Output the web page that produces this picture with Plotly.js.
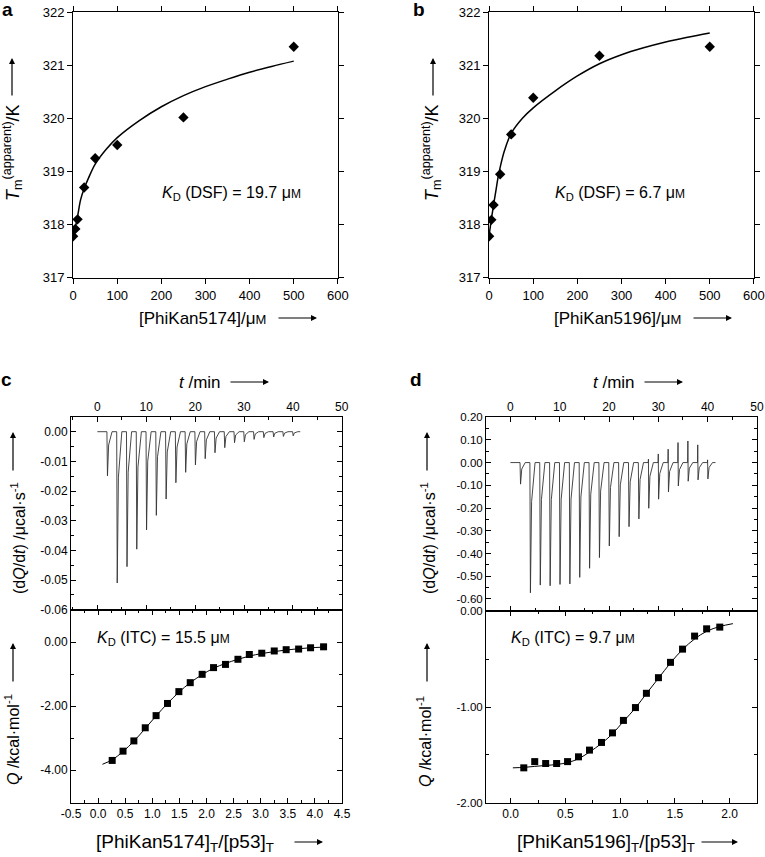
<!DOCTYPE html>
<html>
<head>
<meta charset="utf-8">
<script src="https://cdn.plot.ly/plotly-3.0.1.min.js"></script>
<style>
html,body{margin:0;padding:0;background:#fff;}
#chart{width:765px;height:857px;}
</style>
</head>
<body>
<div id="chart"></div>
<script>
// ---------- Panel a (DSF, PhiKan5174) ----------
const a_conc = [0, 5, 10, 25, 50, 100, 250, 500];
const a_tm = [317.78, 317.92, 318.10, 318.70, 319.25, 319.50, 320.02, 321.35];
const a_fit_conc = [0, 5, 10, 17, 25, 35, 50, 75, 100, 150, 200, 250, 300, 350, 400, 450, 500];
const a_fit_tm = [317.80, 317.95, 318.15, 318.47, 318.68, 318.88, 319.14, 319.42, 319.64, 319.96, 320.22, 320.43, 320.60, 320.74, 320.87, 320.98, 321.08];

// ---------- Panel b (DSF, PhiKan5196) ----------
const b_conc = [0, 5, 10, 25, 50, 100, 250, 500];
const b_tm = [317.78, 318.09, 318.37, 318.95, 319.70, 320.39, 321.18, 321.35];
const b_fit_conc = [0, 5, 10, 15, 20, 25, 35, 50, 75, 100, 150, 200, 250, 300, 350, 400, 450, 500];
const b_fit_tm = [317.80, 318.10, 318.37, 318.62, 318.88, 319.08, 319.40, 319.72, 320.00, 320.20, 320.52, 320.80, 321.03, 321.20, 321.33, 321.44, 321.53, 321.61];

// ---------- Panel c (ITC, PhiKan5174) ----------
const c_inj_t = [2, 4, 6, 8, 10, 12, 14, 16, 18, 20, 22, 24, 26, 28, 30, 32, 34, 36, 38, 40];
const c_peak = [-0.0149, -0.0510, -0.0455, -0.0396, -0.0331, -0.0282, -0.0227, -0.0172, -0.0137, -0.0112,
                -0.0091, -0.0071, -0.0054, -0.0037, -0.0034, -0.0026, -0.0020, -0.0018, -0.0016, -0.0014];
const c_base_t = [0, 41.5];
const c_ratio = [0.26, 0.46, 0.66, 0.87, 1.07, 1.28, 1.49, 1.70, 1.92, 2.13, 2.35, 2.58, 2.79, 3.02, 3.25, 3.47, 3.70, 3.92, 4.16];
const c_q = [-3.70, -3.41, -3.09, -2.68, -2.30, -1.92, -1.55, -1.27, -1.01, -0.80, -0.70, -0.54, -0.39, -0.35, -0.28, -0.24, -0.22, -0.18, -0.15];
const c_fit_ratio = [0.08, 0.26, 0.46, 0.66, 0.87, 1.07, 1.28, 1.49, 1.70, 1.92, 2.13, 2.35, 2.58, 2.79, 3.02, 3.25, 3.47, 3.70, 3.92, 4.16];
const c_fit_q = [-3.82, -3.68, -3.42, -3.10, -2.70, -2.31, -1.92, -1.57, -1.27, -1.02, -0.82, -0.67, -0.54, -0.44, -0.36, -0.30, -0.25, -0.21, -0.18, -0.16];

// ---------- Panel d (ITC, PhiKan5196) ----------
const d_inj_t = [2, 4, 6, 8, 10, 12, 14, 16, 18, 20, 22, 24, 26, 28, 30, 32, 34, 36, 38, 40];
const d_peak = [-0.095, -0.573, -0.539, -0.542, -0.536, -0.534, -0.505, -0.465, -0.418, -0.367,
                -0.326, -0.282, -0.248, -0.201, -0.161, -0.129, -0.103, -0.082, -0.076, -0.072];
const d_up = [0, 0, 0, 0, 0, 0, 0, 0, 0, 0, 0, 0, 0, 0.015, 0.038, 0.059, 0.088, 0.095, 0.078, 0.012];
const d_base_t = [0, 41.6];
const d_ratio = [0.12, 0.22, 0.32, 0.42, 0.52, 0.62, 0.72, 0.83, 0.93, 1.03, 1.14, 1.24, 1.35, 1.46, 1.57, 1.68, 1.79, 1.91];
const d_q = [-1.635, -1.57, -1.59, -1.59, -1.57, -1.52, -1.45, -1.37, -1.27, -1.14, -1.006, -0.857, -0.694, -0.534, -0.396, -0.26, -0.184, -0.166];
const d_fit_ratio = [0.02, 0.12, 0.22, 0.32, 0.42, 0.52, 0.62, 0.72, 0.83, 0.93, 1.03, 1.14, 1.24, 1.35, 1.46, 1.57, 1.68, 1.79, 1.91, 2.03];
const d_fit_q = [-1.635, -1.63, -1.62, -1.61, -1.60, -1.58, -1.54, -1.47, -1.38, -1.28, -1.15, -1.01, -0.86, -0.70, -0.54, -0.40, -0.29, -0.21, -0.16, -0.13];

// ---------- Tick labels ----------
const ab_x_ticks = [0, 100, 200, 300, 400, 500, 600];
const ab_y_ticks = [317, 318, 319, 320, 321, 322];
const t_ticks = [0, 10, 20, 30, 40, 50];
const c_top_y_vals = [0, -0.01, -0.02, -0.03, -0.04, -0.05, -0.06];
const c_top_y_text = ['0.00', '-0.01', '-0.02', '-0.03', '-0.04', '-0.05', '-0.06'];
const c_bot_y_vals = [0, -2, -4];
const c_bot_y_text = ['0.00', '-2.00', '-4.00'];
const c_bot_x_vals = [-0.5, 0, 0.5, 1, 1.5, 2, 2.5, 3, 3.5, 4, 4.5];
const c_bot_x_text = ['-0.5', '0.0', '0.5', '1.0', '1.5', '2.0', '2.5', '3.0', '3.5', '4.0', '4.5'];
const d_top_y_vals = [0.2, 0.1, 0, -0.1, -0.2, -0.3, -0.4, -0.5, -0.6];
const d_top_y_text = ['0.20', '0.10', '0.00', '-0.10', '-0.20', '-0.30', '-0.40', '-0.50', '-0.60'];
const d_bot_y_vals = [0, -1, -2];
const d_bot_y_text = ['0.00', '-1.00', '-2.00'];
const d_bot_x_vals = [0, 0.5, 1, 1.5, 2];
const d_bot_x_text = ['0.0', '0.5', '1.0', '1.5', '2.0'];

// ---------- helpers ----------
const FONT = 'Liberation Sans, Arial, Helvetica, sans-serif';
const W = 765, H = 857;
const px = v => v / W;
const py = v => 1 - v / H;

function thermogram(times, peaks, ups, base) {
  const xs = [base[0]], ys = [0];
  for (let i = 0; i < times.length; i++) {
    const t = times[i];
    xs.push(t - 0.05); ys.push(0);
    if (ups && ups[i]) { xs.push(t); ys.push(ups[i]); }
    xs.push(t + 0.06); ys.push(peaks[i]);
    xs.push(t + 0.3); ys.push(peaks[i] * 0.3);
    xs.push(t + 1.0); ys.push(0);
  }
  xs.push(base[1]); ys.push(0);
  return {xs, ys};
}
const cT = thermogram(c_inj_t, c_peak, null, c_base_t);
const dT = thermogram(d_inj_t, d_peak, d_up, d_base_t);

const traces = [
  {x: a_fit_conc, y: a_fit_tm, xaxis: 'x', yaxis: 'y', mode: 'lines', line: {color: '#000', width: 1.5, shape: 'spline'}},
  {x: a_conc, y: a_tm, xaxis: 'x', yaxis: 'y', mode: 'markers', marker: {symbol: 'diamond', size: 8, color: '#000'}},
  {x: b_fit_conc, y: b_fit_tm, xaxis: 'x2', yaxis: 'y2', mode: 'lines', line: {color: '#000', width: 1.5, shape: 'spline'}},
  {x: b_conc, y: b_tm, xaxis: 'x2', yaxis: 'y2', mode: 'markers', marker: {symbol: 'diamond', size: 8, color: '#000'}},
  {x: cT.xs, y: cT.ys, xaxis: 'x3', yaxis: 'y3', mode: 'lines', line: {color: '#333', width: 0.9}},
  {x: c_fit_ratio, y: c_fit_q, xaxis: 'x4', yaxis: 'y4', mode: 'lines', line: {color: '#000', width: 1, shape: 'spline'}},
  {x: c_ratio, y: c_q, xaxis: 'x4', yaxis: 'y4', mode: 'markers', marker: {symbol: 'square', size: 7, color: '#000'}},
  {x: dT.xs, y: dT.ys, xaxis: 'x5', yaxis: 'y5', mode: 'lines', line: {color: '#333', width: 0.9}},
  {x: d_fit_ratio, y: d_fit_q, xaxis: 'x6', yaxis: 'y6', mode: 'lines', line: {color: '#000', width: 1, shape: 'spline'}},
  {x: d_ratio, y: d_q, xaxis: 'x6', yaxis: 'y6', mode: 'markers', marker: {symbol: 'square', size: 7, color: '#000'}}
];

function axis(domain, range, extra) {
  return Object.assign({
    domain: domain, range: range, showline: true, linecolor: '#000', linewidth: 1,
    mirror: 'ticks', ticks: 'outside', ticklen: 5, tickwidth: 1, tickcolor: '#000',
    showgrid: false, zeroline: false, fixedrange: true,
    tickfont: {family: FONT, size: 13, color: '#000'}
  }, extra || {});
}
const inFont = {family: FONT, size: 12, color: '#000'};
const dFont = {family: FONT, size: 11.5, color: '#000'};
function minor(dt) { return {dtick: dt, tick0: 0, ticks: 'inside', ticklen: 3, tickcolor: '#000', tickwidth: 1, showgrid: false}; }

const layout = {
  width: W, height: H, margin: {l: 0, r: 0, t: 0, b: 0},
  paper_bgcolor: '#fff', plot_bgcolor: '#fff', showlegend: false,
  font: {family: FONT, color: '#000'},
  // a
  xaxis: axis([px(73), px(338)], [-0.3, 600.3], {anchor: 'y', tickmode: 'array', tickvals: ab_x_ticks}),
  yaxis: axis([py(278), py(12)], [316.995, 322.005], {anchor: 'x', tickmode: 'array', tickvals: ab_y_ticks}),
  // b
  xaxis2: axis([px(489), px(754)], [-0.3, 600.3], {anchor: 'y2', tickmode: 'array', tickvals: ab_x_ticks}),
  yaxis2: axis([py(278), py(12)], [316.995, 322.005], {anchor: 'x2', tickmode: 'array', tickvals: ab_y_ticks}),
  // c top
  xaxis3: axis([px(71), px(342)], [-5.4, 50.05], {anchor: 'y3', side: 'top', ticks: 'inside', tickmode: 'array', tickvals: t_ticks, tickfont: inFont, minor: minor(5)}),
  yaxis3: axis([py(610), py(417)], [-0.0601, 0.00495], {anchor: 'x3', ticks: 'inside', tickmode: 'array', tickvals: c_top_y_vals, ticktext: c_top_y_text, tickfont: inFont, minor: minor(0.005)}),
  // c bottom
  xaxis4: axis([px(71), px(342)], [-0.5, 4.5], {anchor: 'y4', ticks: 'inside', tickmode: 'array', tickvals: c_bot_x_vals, ticktext: c_bot_x_text, tickfont: inFont, minor: minor(0.25)}),
  yaxis4: axis([py(803), py(610)], [-5.03, 1.0], {anchor: 'x4', ticks: 'inside', tickmode: 'array', tickvals: c_bot_y_vals, ticktext: c_bot_y_text, tickfont: inFont, minor: minor(1)}),
  // d top
  xaxis5: axis([px(486), px(757)], [-4.95, 50.02], {anchor: 'y5', side: 'top', ticks: 'inside', tickmode: 'array', tickvals: t_ticks, tickfont: inFont, minor: minor(5)}),
  yaxis5: axis([py(611), py(417)], [-0.653, 0.2005], {anchor: 'x5', ticks: 'inside', tickmode: 'array', tickvals: d_top_y_vals, ticktext: d_top_y_text, tickfont: dFont, minor: minor(0.05)}),
  // d bottom
  xaxis6: axis([px(486), px(757)], [-0.225, 2.25], {anchor: 'y6', ticks: 'inside', tickmode: 'array', tickvals: d_bot_x_vals, ticktext: d_bot_x_text, tickfont: inFont, minor: minor(0.25)}),
  yaxis6: axis([py(803), py(611)], [-2.002, 0.002], {anchor: 'x6', ticks: 'inside', tickmode: 'array', tickvals: d_bot_y_vals, ticktext: d_bot_y_text, tickfont: dFont, minor: minor(0.5)}),
  annotations: []
};

function txt(text, x, y, size, angle) {
  layout.annotations.push({text: text, xref: 'paper', yref: 'paper', x: px(x), y: py(y),
    xanchor: 'center', yanchor: 'middle', showarrow: false, textangle: angle || 0,
    font: {family: FONT, size: size, color: '#000'}});
}
function arrow(x1, y1, x0, y0) {
  // head at (x1,y1), tail at (x0,y0), in pixels
  layout.annotations.push({text: '', xref: 'paper', yref: 'paper', x: px(x1), y: py(y1),
    ax: x0 - x1, ay: y0 - y1, showarrow: true, arrowhead: 2, arrowsize: 1, arrowwidth: 1.2, arrowcolor: '#000'});
}
const uM = 'μ<span style="font-size:12px">M</span>';
const uM2 = 'μ<span style="font-size:13px">M</span>';

// panel letters
txt('<b>a</b>', 8, 9, 19); txt('<b>b</b>', 419, 9, 19);
txt('<b>c</b>', 6, 380, 19); txt('<b>d</b>', 416, 380, 19);

// x titles
txt('[PhiKan5174]/' + uM2, 202, 318, 17); arrow(317, 318, 277, 318);
txt('[PhiKan5196]/' + uM2, 617, 318, 17); arrow(732, 318, 692, 318);
txt('<i>t</i> /min', 200, 382, 17); arrow(269, 382, 229, 382);
txt('<i>t</i> /min', 614, 382, 17); arrow(683, 382, 643, 382);
txt('[PhiKan5174]<sub>T</sub>/[p53]<sub>T</sub>', 185, 843, 19); arrow(323, 842, 293, 842);
txt('[PhiKan5196]<sub>T</sub>/[p53]<sub>T</sub>', 606, 843, 19); arrow(738, 842, 700, 842);

// y titles
txt('<i>T</i><sub>m</sub><sup>(apparent)</sup>/K', 13, 153, 18, -90); arrow(12, 58, 12, 97);
txt('<i>T</i><sub>m</sub><sup>(apparent)</sup>/K', 432, 153, 18, -90); arrow(433, 58, 433, 97);
txt('(d<i>Q</i>/d<i>t</i>) /μcal·s<sup>-1</sup>', 18, 538, 16, -90); arrow(13, 432, 13, 472);
txt('<i>Q</i> /kcal·mol<sup>-1</sup>', 12, 740, 16, -90); arrow(13, 643, 13, 683);
txt('(d<i>Q</i>/d<i>t</i>) /μcal·s<sup>-1</sup>', 428, 538, 16, -90); arrow(427, 432, 427, 472);
txt('<i>Q</i> /kcal·mol<sup>-1</sup>', 424, 742, 16, -90); arrow(427, 643, 427, 683);

// KD labels
txt('<i>K</i><sub>D</sub> (DSF) = 19.7 ' + uM, 232, 193, 16);
txt('<i>K</i><sub>D</sub> (DSF) = 6.7 ' + uM, 620, 193, 16);
txt('<i>K</i><sub>D</sub> (ITC) = 15.5 ' + uM, 163, 638, 16);
txt('<i>K</i><sub>D</sub> (ITC) = 9.7 ' + uM, 573, 638, 16);

Plotly.newPlot('chart', traces, layout, {staticPlot: true, displayModeBar: false});
</script>
</body>
</html>
